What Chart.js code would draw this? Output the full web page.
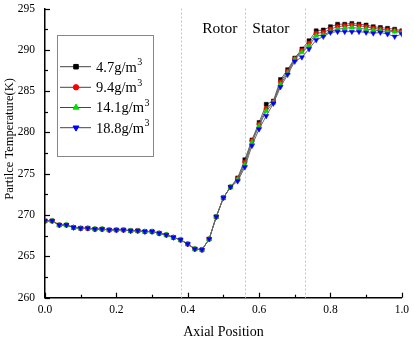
<!DOCTYPE html>
<html>
<head>
<meta charset="utf-8">
<script src="https://cdn.jsdelivr.net/npm/chart.js@4.4.1/dist/chart.umd.min.js"></script>
<style>
  html, body { margin: 0; padding: 0; background: #fff; }
  #wrap { width: 414px; height: 341px; }
</style>
</head>
<body>
<div id="wrap"><canvas id="chart" width="414" height="341"></canvas></div>
<script>
const xPos = [0.00, 0.02, 0.04, 0.06, 0.08, 0.10, 0.12, 0.14, 0.16, 0.18,
              0.20, 0.22, 0.24, 0.26, 0.28, 0.30, 0.32, 0.34, 0.36, 0.38,
              0.40, 0.42, 0.44, 0.46, 0.48, 0.50, 0.52, 0.54, 0.56, 0.58,
              0.60, 0.62, 0.64, 0.66, 0.68, 0.70, 0.72, 0.74, 0.76, 0.78,
              0.80, 0.82, 0.84, 0.86, 0.88, 0.90, 0.92, 0.94, 0.96, 0.98, 1.00];

const temp47 = [269.3, 269.3, 268.8, 268.8, 268.5, 268.4, 268.4, 268.3, 268.3, 268.2,
                268.2, 268.2, 268.1, 268.1, 268.0, 268.0, 267.8, 267.6, 267.3, 267.0,
                266.5, 265.9, 265.8, 267.1, 269.8, 272.1, 273.4, 274.5, 276.7, 279.1,
                281.2, 283.4, 283.8, 286.4, 287.6, 289.0, 290.1, 291.1, 292.3, 292.4,
                292.8, 293.1, 293.1, 293.2, 293.1, 293.0, 292.8, 292.7, 292.6, 292.5, 292.3];
const temp94 = [269.3, 269.3, 268.8, 268.8, 268.5, 268.4, 268.4, 268.3, 268.3, 268.2,
                268.2, 268.2, 268.1, 268.1, 268.0, 268.0, 267.8, 267.6, 267.3, 267.0,
                266.5, 265.9, 265.8, 267.1, 269.8, 272.1, 273.4, 274.4, 276.4, 279.0,
                281.0, 282.9, 283.7, 286.1, 287.4, 288.9, 289.9, 290.8, 292.0, 292.1,
                292.5, 292.8, 292.9, 293.0, 292.9, 292.8, 292.6, 292.5, 292.4, 292.3, 292.2];
const temp141 = [269.3, 269.3, 268.8, 268.8, 268.5, 268.4, 268.4, 268.3, 268.3, 268.2,
                 268.2, 268.2, 268.1, 268.1, 268.0, 268.0, 267.8, 267.6, 267.3, 267.0,
                 266.5, 265.9, 265.8, 267.1, 269.8, 272.1, 273.4, 274.3, 276.1, 278.8,
                 280.8, 282.6, 283.6, 285.8, 287.2, 288.8, 289.7, 290.5, 291.7, 291.8,
                 292.2, 292.5, 292.6, 292.7, 292.6, 292.5, 292.4, 292.3, 292.2, 292.2, 292.1];
const temp188 = [269.3, 269.3, 268.8, 268.8, 268.5, 268.4, 268.4, 268.3, 268.3, 268.2,
                 268.2, 268.2, 268.1, 268.1, 268.0, 268.0, 267.8, 267.6, 267.3, 267.0,
                 266.5, 265.9, 265.8, 267.1, 269.8, 272.1, 273.4, 274.1, 275.8, 278.4,
                 280.4, 282.0, 283.5, 285.5, 287.0, 288.6, 289.1, 290.1, 291.2, 291.6,
                 292.1, 292.2, 292.2, 292.2, 292.2, 292.1, 292.0, 292.1, 291.9, 291.6, 291.9];

const seriesNames = ['4.7g/m', '9.4g/m', '14.1g/m', '18.8g/m'];
const seriesColors = ['#000000', '#ff0000', '#00dd00', '#0000ff'];

// zone boundaries and zone labels
const dividers = [0.38, 0.56, 0.73];
const zoneLabels = ['Rotor', 'Stator'];
const zoneLabelX = [0.49, 0.633];
const zoneLabelY = 292.5;

const SERIF = '"Liberation Serif", "Times New Roman", serif';

const markers = [
  { pointStyle: 'rect', rotation: 0, radius: 2.8 },
  { pointStyle: 'circle', rotation: 0, radius: 2.3 },
  { pointStyle: 'triangle', rotation: 0, radius: 3 },
  { pointStyle: 'triangle', rotation: 180, radius: 3 }
];

function makeSet(i, values) {
  return {
    label: seriesNames[i] + '³',
    data: xPos.map((x, k) => ({ x: x, y: values[k] })),
    borderColor: '#666666',
    borderWidth: 1,
    backgroundColor: seriesColors[i],
    pointBackgroundColor: seriesColors[i],
    pointBorderColor: seriesColors[i],
    pointBorderWidth: 0.5,
    pointStyle: markers[i].pointStyle,
    rotation: markers[i].rotation,
    pointRadius: markers[i].radius,
    tension: 0,
    order: 3 - i
  };
}

function drawMarker(ctx, i, x, y) {
  const m = markers[i];
  ctx.save();
  ctx.fillStyle = seriesColors[i];
  ctx.strokeStyle = seriesColors[i];
  Chart.helpers.drawPoint(ctx, {
    pointStyle: m.pointStyle, rotation: m.rotation,
    radius: m.radius + 0.4, borderWidth: 0.5
  }, x, y);
  ctx.restore();
}

const decorations = {
  id: 'decorations',
  beforeDatasetsDraw(chart) {
    const { ctx, chartArea: a, scales: { x, y } } = chart;
    ctx.save();
    ctx.strokeStyle = '#c8c8c8';
    ctx.lineWidth = 1;
    ctx.setLineDash([2, 2]);
    dividers.forEach(v => {
      const px = Math.round(x.getPixelForValue(v)) + 0.5;
      ctx.beginPath();
      ctx.moveTo(px, a.top);
      ctx.lineTo(px, a.bottom);
      ctx.stroke();
    });
    ctx.setLineDash([]);
    ctx.fillStyle = '#000';
    ctx.font = '15.5px ' + SERIF;
    ctx.textAlign = 'center';
    ctx.textBaseline = 'middle';
    zoneLabels.forEach((t, i) => {
      ctx.fillText(t, x.getPixelForValue(zoneLabelX[i]), y.getPixelForValue(zoneLabelY));
    });
    ctx.restore();
  },
  afterDraw(chart) {
    const { ctx, chartArea: a, scales: { x, y } } = chart;
    ctx.save();
    ctx.strokeStyle = '#000';
    ctx.lineWidth = 1.2;

    // inward tick marks, major and minor
    for (let v = 260; v <= 295.01; v += 2.5) {
      const py = Math.round(y.getPixelForValue(v)) + 0.5;
      const len = Math.abs(v % 5) < 0.01 ? 5 : 3;
      ctx.beginPath();
      ctx.moveTo(a.left, py);
      ctx.lineTo(a.left + len, py);
      ctx.stroke();
    }
    for (let v = 0; v <= 1.001; v += 0.1) {
      const px = Math.round(x.getPixelForValue(v)) + 0.5;
      const major = Math.round(v * 10) % 2 === 0;
      const len = major ? 5 : 3;
      ctx.beginPath();
      ctx.moveTo(px, a.bottom);
      ctx.lineTo(px, a.bottom - len);
      ctx.stroke();
    }

    // y axis title
    ctx.fillStyle = '#000';
    ctx.font = '12.5px ' + SERIF;
    ctx.textAlign = 'center';
    ctx.textBaseline = 'middle';
    ctx.translate(10, 139);
    ctx.rotate(-Math.PI / 2);
    ctx.fillText('Partilce Temperature(K)', 0, 0);
    ctx.restore();

    // legend box
    ctx.save();
    const bx = 57.5, by = 35.5, bw = 96, bh = 121;
    ctx.fillStyle = '#fff';
    ctx.fillRect(bx, by, bw, bh);
    ctx.strokeStyle = '#888';
    ctx.lineWidth = 1;
    ctx.strokeRect(bx, by, bw, bh);
    const rows = [66.7, 87.3, 107.5, 127.7];
    rows.forEach((ry, i) => {
      ctx.strokeStyle = '#444';
      ctx.lineWidth = 1;
      ctx.beginPath();
      ctx.moveTo(60, ry);
      ctx.lineTo(91, ry);
      ctx.stroke();
      drawMarker(ctx, i, 76, ry);
      ctx.fillStyle = '#000';
      ctx.textAlign = 'left';
      ctx.textBaseline = 'middle';
      ctx.font = '14.5px ' + SERIF;
      ctx.fillText(seriesNames[i], 96, ry + 1);
      const w = ctx.measureText(seriesNames[i]).width;
      ctx.font = '10px ' + SERIF;
      ctx.fillText('3', 96 + w + 0.5, ry - 4);
    });
    ctx.restore();
  }
};

new Chart(document.getElementById('chart'), {
  type: 'line',
  data: {
    datasets: [
      makeSet(0, temp47),
      makeSet(1, temp94),
      makeSet(2, temp141),
      makeSet(3, temp188)
    ]
  },
  options: {
    responsive: false,
    animation: false,
    events: [],
    layout: { padding: { left: 0, top: 8.5, right: 10, bottom: 0 } },
    plugins: { legend: { display: false }, tooltip: { enabled: false } },
    scales: {
      x: {
        type: 'linear',
        min: 0,
        max: 1,
        afterFit: s => { s.height = 43.3; },
        grid: { display: false, drawTicks: false },
        border: { display: true, color: '#000', width: 1.5 },
        ticks: {
          stepSize: 0.2,
          padding: 5,
          color: '#000',
          font: { family: SERIF, size: 11.5 },
          callback: v => v.toFixed(1)
        },
        title: {
          display: true,
          text: 'Axial Position',
          color: '#000',
          font: { family: SERIF, size: 14 },
          padding: { top: 2, bottom: 0 }
        }
      },
      y: {
        min: 260,
        max: 295,
        afterFit: s => { s.width = 45; s.paddingTop = 0; s.paddingBottom = 0; },
        grid: { display: false, drawTicks: false },
        border: { display: true, color: '#000', width: 1.5 },
        ticks: {
          stepSize: 5,
          padding: 10,
          color: '#000',
          font: { family: SERIF, size: 11.5 }
        }
      }
    }
  },
  plugins: [decorations]
});
</script>
</body>
</html>
